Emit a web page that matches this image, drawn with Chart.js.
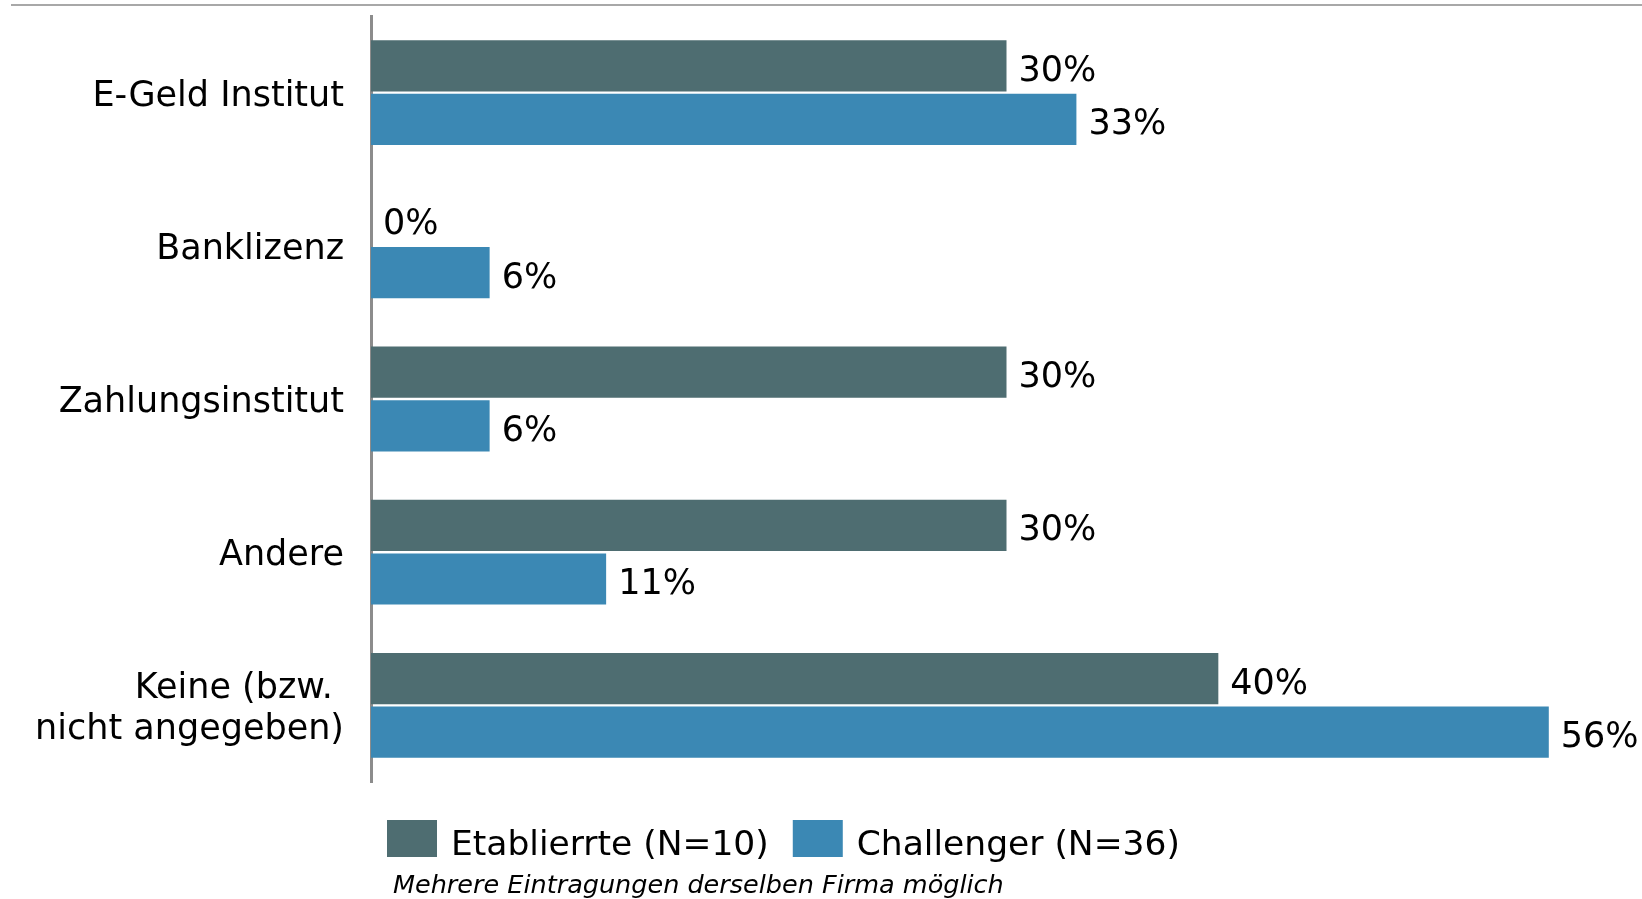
<!DOCTYPE html>
<html>
<head>
<meta charset="utf-8">
<script src="https://cdn.jsdelivr.net/npm/chart.js@4/dist/chart.umd.min.js"></script>
<style>
  html, body { margin: 0; padding: 0; background: #fff; }
  #chart { display: block; }
</style>
</head>
<body>
<canvas id="chart" width="1642" height="899"></canvas>
<script>
// Chart data
const categories = ['E-Geld Institut', 'Banklizenz', 'Zahlungsinstitut', 'Andere', ['Keine (bzw. ', 'nicht angegeben)']];
const seriesNames = ['Etablierrte (N=10)', 'Challenger (N=36)'];
const etablierteValues = [30, 0, 30, 30, 40];
const challengerValues = [33.3, 5.6, 5.6, 11.1, 55.6];
const seriesColors = ['#4e6d71', '#3b88b4'];
const footNote = 'Mehrere Eintragungen derselben Firma möglich';

const FONT = 'DejaVu Sans';

// Value labels at the end of each bar
const valueLabels = {
    id: 'valueLabels',
    afterDatasetsDraw(chart) {
        const ctx = chart.ctx;
        ctx.save();
        ctx.font = `35px "${FONT}"`;
        ctx.fillStyle = '#000';
        ctx.textAlign = 'left';
        ctx.textBaseline = 'alphabetic';
        chart.data.datasets.forEach((ds, i) => {
            const meta = chart.getDatasetMeta(i);
            meta.data.forEach((bar, j) => {
                const txt = Math.round(ds.data[j]) + '%';
                ctx.fillText(txt, bar.x + 12, bar.y + 15);
            });
        });
        ctx.restore();
    }
};

// Top rule, legend and foot note
const decorations = {
    id: 'decorations',
    afterDraw(chart) {
        const ctx = chart.ctx;
        ctx.save();

        // thin rule at the very top
        ctx.strokeStyle = '#a8a8a8';
        ctx.lineWidth = 2;
        ctx.beginPath();
        ctx.moveTo(11, 5);
        ctx.lineTo(chart.width, 5);
        ctx.stroke();

        // legend
        ctx.font = `34.5px "${FONT}"`;
        ctx.textBaseline = 'alphabetic';
        let x = 387;
        chart.data.datasets.forEach(ds => {
            ctx.fillStyle = ds.backgroundColor;
            ctx.fillRect(x, 820, 50, 37);
            ctx.fillStyle = '#000';
            ctx.fillText(ds.label, x + 64, 855);
            x += 64 + ctx.measureText(ds.label).width + 24;
        });

        // note
        ctx.font = `italic 25.5px "${FONT}"`;
        ctx.fillText(footNote, 393, 893);

        ctx.restore();
    }
};

const ctx = document.getElementById('chart').getContext('2d');
new Chart(ctx, {
    type: 'bar',
    data: {
        labels: categories,
        datasets: [
            { label: seriesNames[0], data: etablierteValues, backgroundColor: seriesColors[0] },
            { label: seriesNames[1], data: challengerValues, backgroundColor: seriesColors[1] }
        ]
    },
    options: {
        indexAxis: 'y',
        responsive: false,
        animation: false,
        categoryPercentage: 0.70,
        barPercentage: 0.955,
        layout: { padding: { top: 16, bottom: 117, left: 0, right: 0 } },
        plugins: {
            legend: { display: false },
            tooltip: { enabled: false }
        },
        scales: {
            x: {
                display: false,
                min: 0,
                max: 60
            },
            y: {
                grid: { display: false, drawTicks: false },
                border: { display: true, color: '#8c8c8c', width: 3 },
                ticks: {
                    color: '#000',
                    padding: 27,
                    labelOffset: 4,
                    font: { family: FONT, size: 35, lineHeight: 1.15 }
                },
                afterFit(scale) {
                    scale.width = 371;
                    scale.paddingTop = 0;
                    scale.paddingBottom = 0;
                }
            }
        }
    },
    plugins: [valueLabels, decorations]
});
</script>
</body>
</html>
